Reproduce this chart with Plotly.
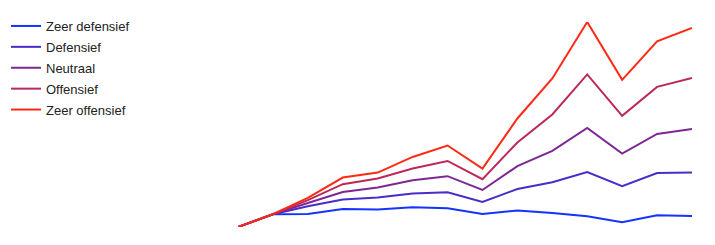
import plotly.graph_objects as go

periods = list(range(14))
series_names = ["Zeer defensief", "Defensief", "Neutraal", "Offensief", "Zeer offensief"]
zeer_defensief = [100, 106.4, 106.5, 109.0, 108.7, 109.9, 109.4, 106.5, 108.2, 107.0, 105.4, 102.4, 105.9, 105.5]
defensief = [100, 106.4, 110.4, 113.7, 114.7, 116.7, 117.4, 112.5, 119.0, 122.4, 127.5, 120.4, 127.0, 127.2]
neutraal = [100, 106.4, 112.0, 117.5, 119.7, 123.4, 125.4, 118.5, 130.4, 138.0, 149.5, 136.7, 146.5, 149.0]
offensief = [100, 106.4, 113.4, 121.4, 124.2, 129.2, 133.0, 123.9, 142.2, 156.2, 176.2, 155.5, 170.0, 174.4]
zeer_offensief = [100, 106.4, 114.5, 124.7, 127.2, 135.0, 140.7, 129.2, 154.2, 174.2, 202.4, 173.5, 192.7, 199.4]
colors = ["#1433ff", "#4a2dc9", "#7d2892", "#bb285a", "#ff2a14"]

all_series = [zeer_defensief, defensief, neutraal, offensief, zeer_offensief]

fig = go.Figure()
for name, vals, col in zip(series_names, all_series, colors):
    fig.add_trace(go.Scatter(x=periods, y=vals, mode="lines", name=name,
                             legendgroup=name,
                             line=dict(color=col, width=2)))

ymin = min(min(s) for s in all_series)
ymax = max(max(s) for s in all_series)

fig.update_layout(
    width=715, height=245,
    margin=dict(l=238, r=23, t=22, b=18),
    plot_bgcolor="white", paper_bgcolor="white",
    font=dict(family="Liberation Sans, Arial, sans-serif", size=13, color="#222222"),
    xaxis=dict(visible=False, range=[0, 13]),
    yaxis=dict(visible=False, range=[ymin, ymax]),
    showlegend=True,
    legend=dict(xref="container", yref="container", x=6/715, y=1 - 11/245,
                xanchor="left", yanchor="top", tracegroupgap=1,
                bgcolor="rgba(0,0,0,0)", font=dict(size=13, color="#222222")),
)
fig.write_html("out.html")
